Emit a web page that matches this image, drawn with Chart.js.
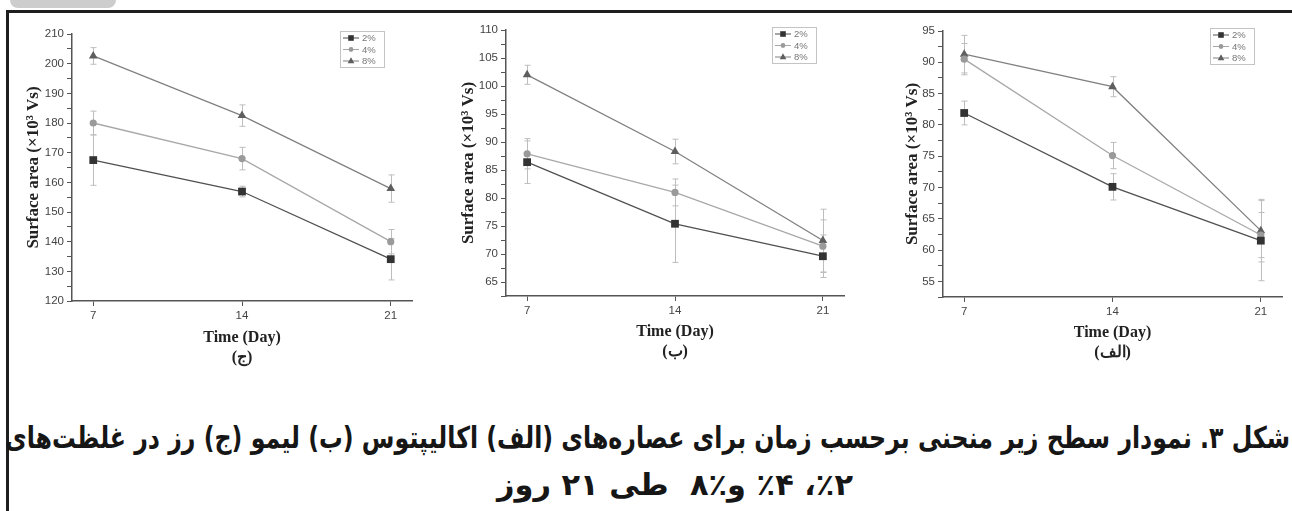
<!DOCTYPE html>
<html>
<head>
<meta charset="utf-8">
<script src="https://cdn.jsdelivr.net/npm/chart.js@4.4.0/dist/chart.umd.min.js"></script>
<style>
  body { margin: 0; width: 1292px; height: 511px; background: #fff; position: relative; overflow: hidden; }
  .tab { position: absolute; left: 10px; top: 0; width: 106px; height: 8px; background: #cdcdcd; border-radius: 0 0 8px 8px; }
  .frame { position: absolute; left: 6px; top: 10px; right: -10px; bottom: -10px; border-left: 3px solid #1e1e1e; border-top: 3px solid #1e1e1e; }
  .panel { position: absolute; }
  .caption { position: absolute; display: inline-block; white-space: pre; direction: rtl; transform-origin: 0 0;
    font-family: "DejaVu Sans", sans-serif; font-weight: bold; color: #161616; font-size: 30px; line-height: 36px; }
</style>
</head>
<body>
<div class="tab"></div>
<div class="frame"></div>
<div class="panel" style="left:12px;top:20px"><canvas id="roseChart" width="408" height="355"></canvas></div>
<div class="panel" style="left:446px;top:16px"><canvas id="lemonChart" width="406" height="359"></canvas></div>
<div class="panel" style="left:883px;top:17px"><canvas id="eucChart" width="407" height="358"></canvas></div>
<div class="caption" id="cap1" dir="rtl" style="left:5px;top:420px"></div>
<div class="caption" id="cap2" dir="rtl" style="left:497px;top:467px"></div>

<script>
// x values and legend names
const days = [7, 14, 21];
const seriesNames = ['2%', '4%', '8%'];

// (ج) rose
const rose2 = [167.5, 156.9, 134.1];
const rose4 = [180.0, 168.0, 140.0];
const rose8 = [202.6, 182.5, 157.9];
const rose2Err = [8.5, 1.8, 7.0];
const rose4Err = [4.0, 3.8, 4.1];
const rose8Err = [2.8, 3.6, 4.6];
const roseYTicks = [120, 130, 140, 150, 160, 170, 180, 190, 200, 210];

// (ب) lemon
const lemon2 = [86.4, 75.4, 69.6];
const lemon4 = [87.9, 81.0, 71.4];
const lemon8 = [102.0, 88.3, 72.4];
const lemon2Err = [3.8, 6.9, 3.8];
const lemon4Err = [2.7, 2.4, 4.7];
const lemon8Err = [1.7, 2.2, 5.6];
const lemonYTicks = [65, 70, 75, 80, 85, 90, 95, 100, 105, 110];

// (الف) eucalyptus
const euc2 = [81.9, 70.1, 61.5];
const euc4 = [90.5, 75.1, 62.4];
const euc8 = [91.3, 86.1, 63.1];
const euc2Err = [1.9, 2.1, 6.4];
const euc4Err = [2.5, 2.1, 3.6];
const euc8Err = [3.0, 1.6, 5.0];
const eucYTicks = [55, 60, 65, 70, 75, 80, 85, 90, 95];

const captionLine1 = 'شکل ۳. نمودار سطح زیر منحنی برحسب زمان برای عصاره‌های (الف) اکالیپتوس (ب) لیمو (ج) رز در غلظت‌های';
const captionLine2 = '٪۲، ٪۴ و٪۸  طی ۲۱ روز';

const styles = [
  { line: '#505050', fill: '#333', point: 'rect', radius: 5.5 },
  { line: '#a8a8a8', fill: '#9a9a9a', point: 'circle', radius: 3.6 },
  { line: '#808080', fill: '#5e5e5e', point: 'triangle', radius: 5 }
];

// error bars drawn under the lines
const errorBars = {
  id: 'errorBars',
  beforeDatasetsDraw(chart) {
    const { ctx, scales: { x, y } } = chart;
    ctx.save();
    ctx.strokeStyle = '#bdbdbd';
    ctx.lineWidth = 1;
    chart.data.datasets.forEach(ds => {
      ds.data.forEach((p, i) => {
        const e = ds.errors[i];
        const px = Math.round(x.getPixelForValue(p.x)) + 0.5;
        const top = y.getPixelForValue(p.y + e);
        const bot = y.getPixelForValue(p.y - e);
        ctx.beginPath();
        ctx.moveTo(px, top); ctx.lineTo(px, bot);
        ctx.moveTo(px - 3, top); ctx.lineTo(px + 3, top);
        ctx.moveTo(px - 3, bot); ctx.lineTo(px + 3, bot);
        ctx.stroke();
      });
    });
    ctx.restore();
  }
};

function marker(ctx, kind, x, y, r) {
  ctx.beginPath();
  if (kind === 'rect') ctx.rect(x - r, y - r, 2 * r, 2 * r);
  else if (kind === 'circle') ctx.arc(x, y, r, 0, Math.PI * 2);
  else { ctx.moveTo(x, y - r - 1); ctx.lineTo(x + r + 0.5, y + r - 0.5); ctx.lineTo(x - r - 0.5, y + r - 0.5); ctx.closePath(); }
  ctx.fill();
}

// boxed legend in the top right corner of the plot
const boxLegend = {
  id: 'boxLegend',
  afterDraw(chart) {
    const { ctx, chartArea } = chart;
    const w = 44, h = 36;
    const left = Math.round(chartArea.right - 28 - w), top = Math.round(chartArea.top - 3);
    ctx.save();
    ctx.strokeStyle = '#c4c4c4';
    ctx.lineWidth = 1;
    ctx.strokeRect(left + 0.5, top + 0.5, w, h);
    ctx.font = '9.5px "Liberation Sans", Arial, sans-serif';
    ctx.textBaseline = 'middle';
    chart.data.datasets.forEach((ds, i) => {
      const yy = top + 7 + i * 11.5;
      ctx.strokeStyle = ds.borderColor;
      ctx.beginPath(); ctx.moveTo(left + 3, yy); ctx.lineTo(left + 19, yy); ctx.stroke();
      ctx.fillStyle = ds.pointBackgroundColor;
      marker(ctx, ds.pointStyle, left + 11, yy, ds.pointStyle === 'circle' ? 2.4 : 2.8);
      ctx.fillStyle = '#777';
      ctx.fillText(ds.label, left + 22, yy + 0.5);
    });
    ctx.restore();
  }
};

function makeChart(id, values, errors, yTicks, yMin, letter, titlePad, xHeight, xTitlePad) {
  const datasets = values.map((vals, k) => ({
    label: seriesNames[k],
    data: days.map((d, i) => ({ x: d, y: vals[i] })),
    errors: errors[k],
    borderColor: styles[k].line,
    borderWidth: 1.3,
    pointStyle: styles[k].point,
    pointRadius: styles[k].radius,
    pointBackgroundColor: styles[k].fill,
    pointBorderColor: styles[k].fill,
    pointBorderWidth: 0,
    tension: 0
  }));
  const minor = (yTicks[1] - yTicks[0]) / 2;
  return new Chart(document.getElementById(id), {
    type: 'line',
    data: { datasets },
    plugins: [errorBars, boxLegend],
    options: {
      responsive: false,
      animation: false,
      layout: { padding: { top: 14, right: 8, left: 0, bottom: 0 } },
      plugins: { legend: { display: false }, tooltip: { enabled: false } },
      scales: {
        x: {
          type: 'linear', min: 6, max: 22,
          afterBuildTicks: s => { s.ticks = days.map(v => ({ value: v })); },
          afterFit: s => { s.height = xHeight; },
          grid: { drawOnChartArea: false, tickLength: 5, tickColor: '#555' },
          border: { color: '#555', width: 1.5 },
          ticks: { color: '#444', padding: 3, font: { family: '"Liberation Sans", Arial', size: 11.5 } },
          title: {
            display: true, text: ['Time (Day)', '(' + letter + ')'], color: '#222',
            font: { family: '"Liberation Serif", "Times New Roman", serif', weight: 'bold', size: 16, lineHeight: '20px' },
            padding: { top: 0, bottom: xTitlePad }
          }
        },
        y: {
          min: yMin, max: yTicks[yTicks.length - 1],
          ticks: {
            stepSize: minor, autoSkip: false, color: '#444', padding: 3,
            font: { family: '"Liberation Sans", Arial', size: 11.5 },
            callback: v => yTicks.includes(v) ? v : ''
          },
          afterFit: s => { s.width = 60; },
          grid: { drawOnChartArea: false, tickLength: 5, tickColor: '#555' },
          border: { color: '#555', width: 1.5 },
          title: {
            display: true, text: 'Surface area (×10³ Vs)', color: '#222',
            font: { family: '"Liberation Serif", "Times New Roman", serif', weight: 'bold', size: 17 },
            padding: { top: titlePad, bottom: 0 }
          }
        }
      }
    }
  });
}

makeChart('roseChart', [rose2, rose4, rose8], [rose2Err, rose4Err, rose8Err], roseYTicks, 120, 'ج', 11, 74, 7);
makeChart('lemonChart', [lemon2, lemon4, lemon8], [lemon2Err, lemon4Err, lemon8Err], lemonYTicks, 62.5, 'ب', 12, 79, 13);
makeChart('eucChart', [euc2, euc4, euc8], [euc2Err, euc4Err, euc8Err], eucYTicks, 52.5, 'الف', 19, 78, 12);

// caption lines: normal right-to-left text, stretched to the width it has in the figure
function fillCaption(el, text, targetWidth) {
  el.textContent = text;
  const natural = el.getBoundingClientRect().width;
  el.style.transform = 'scaleX(' + (targetWidth / natural) + ')';
}
fillCaption(document.getElementById('cap1'), captionLine1, 1285);
fillCaption(document.getElementById('cap2'), captionLine2, 356);
</script>
</body>
</html>
